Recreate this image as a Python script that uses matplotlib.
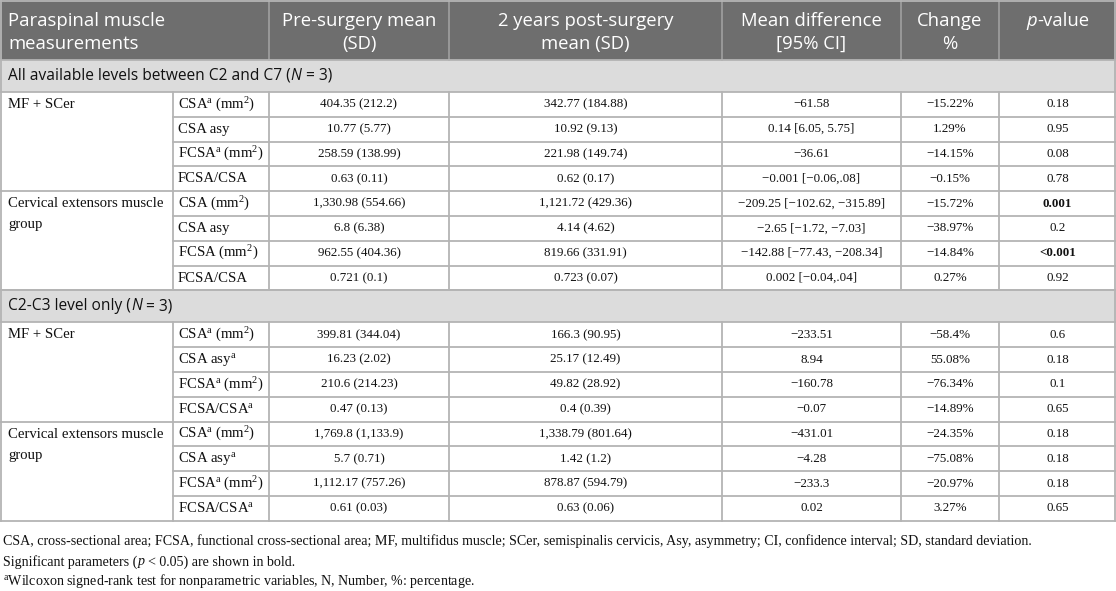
import matplotlib
matplotlib.use("Agg")
import matplotlib.pyplot as plt

plt.rcParams['mathtext.fontset'] = 'custom'
plt.rcParams['mathtext.rm'] = 'Liberation Serif'
plt.rcParams['mathtext.it'] = 'Liberation Serif:italic'
plt.rcParams['mathtext.bf'] = 'Liberation Serif:bold'

# ---- table content ----
header = ["Paraspinal muscle\nmeasurements", "Pre-surgery mean\n(SD)", "2 years post-surgery\nmean (SD)",
          "Mean difference\n[95% CI]", "Change\n%", "p-value"]
sections = ["All available levels between C2 and C7 (", "C2-C3 level only ("]
groups = ["MF + SCer", "Cervical extensors muscle\ngroup"]

meas1 = [r"CSA$^{\mathrm{a}}$ (mm$^{2}$)", "CSA asy", r"FCSA$^{\mathrm{a}}$ (mm$^{2}$)", "FCSA/CSA",
         r"CSA (mm$^{2}$)", "CSA asy", r"FCSA (mm$^{2}$)", "FCSA/CSA"]
pre1 = ["404.35 (212.2)", "10.77 (5.77)", "258.59 (138.99)", "0.63 (0.11)",
        "1,330.98 (554.66)", "6.8 (6.38)", "962.55 (404.36)", "0.721 (0.1)"]
post1 = ["342.77 (184.88)", "10.92 (9.13)", "221.98 (149.74)", "0.62 (0.17)",
         "1,121.72 (429.36)", "4.14 (4.62)", "819.66 (331.91)", "0.723 (0.07)"]
diff1 = ["\u221261.58", "0.14 [6.05, 5.75]", "\u221236.61", "\u22120.001 [\u22120.06,.08]",
         "\u2212209.25 [\u2212102.62, \u2212315.89]", "\u22122.65 [\u22121.72, \u22127.03]",
         "\u2212142.88 [\u221277.43, \u2212208.34]", "0.002 [\u22120.04,.04]"]
chg1 = ["\u221215.22%", "1.29%", "\u221214.15%", "\u22120.15%", "\u221215.72%", "\u221238.97%", "\u221214.84%", "0.27%"]
p1 = ["0.18", "0.95", "0.08", "0.78", "0.001", "0.2", "<0.001", "0.92"]

meas2 = [r"CSA$^{\mathrm{a}}$ (mm$^{2}$)", r"CSA asy$^{\mathrm{a}}$", r"FCSA$^{\mathrm{a}}$ (mm$^{2}$)",
         r"FCSA/CSA$^{\mathrm{a}}$"] * 2
pre2 = ["399.81 (344.04)", "16.23 (2.02)", "210.6 (214.23)", "0.47 (0.13)",
        "1,769.8 (1,133.9)", "5.7 (0.71)", "1,112.17 (757.26)", "0.61 (0.03)"]
post2 = ["166.3 (90.95)", "25.17 (12.49)", "49.82 (28.92)", "0.4 (0.39)",
         "1,338.79 (801.64)", "1.42 (1.2)", "878.87 (594.79)", "0.63 (0.06)"]
diff2 = ["\u2212233.51", "8.94", "\u2212160.78", "\u22120.07", "\u2212431.01", "\u22124.28", "\u2212233.3", "0.02"]
chg2 = ["\u221258.4%", "55.08%", "\u221276.34%", "\u221214.89%", "\u221224.35%", "\u221275.08%", "\u221220.97%", "3.27%"]
p2 = ["0.6", "0.18", "0.1", "0.65", "0.18", "0.18", "0.18", "0.65"]
bold_p = ["0.001", "<0.001"]

notes = ["CSA, cross-sectional area; FCSA, functional cross-sectional area; MF, multifidus muscle; SCer, "
         "semispinalis cervicis, Asy, asymmetry; CI, confidence interval; SD, standard deviation.",
         "Significant parameters (", r"$^{\mathrm{a}}$Wilcoxon signed-rank test for nonparametric variables, N, Number, %: percentage."]

# ---- layout ----
W, Hpx = 1116, 591
xs = [0, 173, 269, 449, 722, 901, 999, 1116]
hdr_h = 60
sec_h = 32
rh = 24.8
hdr_bg = '#6e6e6e'
sec_bg = '#dcdcdc'
lc = '#b4b4b4'
serif = 'Liberation Serif'
sans = 'Open Sans'
fs_num = 9.4
fs_lab = 10.6
fs_note = 10.1
fs_hdr = 13.3
fs_sec = 11.2

fig = plt.figure(figsize=(W / 100, Hpx / 100), dpi=100)
ax = fig.add_axes([0, 0, 1, 1])
ax.set_xlim(0, W)
ax.set_ylim(Hpx, 0)
ax.axis('off')
r = fig.canvas.get_renderer()


def text_w(s, **kw):
    a = ax.text(0, 0, '|' + s + '|', **kw)
    b = ax.text(0, 0, '||', **kw)
    w = a.get_window_extent(r).width - b.get_window_extent(r).width
    a.remove()
    b.remove()
    return w


def rich(x, y, parts, ha='left', **kw):
    # parts: (string, fontstyle)
    total = sum(text_w(s, style=st, **kw) for s, st in parts)
    cx = x - total / 2 if ha == 'center' else x
    for s, st in parts:
        lead = len(s) - len(s.lstrip())
        off = text_w(' ' * lead, style=st, **kw) if lead else 0
        ax.text(cx + off, y, s.strip(), style=st, ha='left', va='center', **kw)
        cx += text_w(s, style=st, **kw)


# header
ax.add_patch(plt.Rectangle((0, 0), W, hdr_h, color=hdr_bg, lw=0))
for x in xs[2:-1]:
    ax.plot([x, x], [0, hdr_h], color='#a0a0a0', lw=1.2)
hk = dict(family=sans, fontsize=fs_hdr, color='white')
l1, l2 = header[0].split('\n')
ax.text(8, 21, l1, ha='left', va='center', **hk)
ax.text(8, 44, l2, ha='left', va='center', **hk)
for i, h in enumerate(header[1:5]):
    cx = (xs[i + 2] + xs[i + 3]) / 2
    a, b = h.split('\n')
    ax.text(cx, 21, a, ha='center', va='center', **hk)
    ax.text(cx, 44, b, ha='center', va='center', **hk)
rich((xs[6] + xs[7]) / 2, 21, [("p", 'italic'), ("-value", 'normal')], ha='center', **hk)

# body
blocks = [(meas1, pre1, post1, diff1, chg1, p1), (meas2, pre2, post2, diff2, chg2, p2)]
y = hdr_h
dk = dict(family=serif, color='#111111')
for s, (meas, pre, post, diff, chg, pv) in enumerate(blocks):
    ax.add_patch(plt.Rectangle((0, y), W, sec_h, color=sec_bg, lw=0))
    rich(8, y + sec_h / 2, [(sections[s], 'normal'), ("N", 'italic'), (" = 3)", 'normal')],
         family=sans, fontsize=fs_sec, color='#111111')
    ax.plot([0, W], [y, y], color=lc, lw=1.3)
    y += sec_h
    top = y
    ax.plot([0, W], [y, y], color=lc, lw=1.3)
    for i in range(8):
        cy = y + rh / 2
        if i % 4 == 0:
            g = groups[i // 4].split('\n')
            for k, line in enumerate(g):
                ax.text(8, cy + k * 21, line, ha='left', va='center', fontsize=fs_lab, **dk)
        ax.text(xs[1] + 5, cy, meas[i], ha='left', va='center', fontsize=fs_lab, **dk)
        cols = [pre[i], post[i], diff[i], chg[i], pv[i]]
        for j, v in enumerate(cols):
            cx = (xs[j + 2] + xs[j + 3]) / 2
            wt = 'bold' if (j == 4 and v in bold_p) else 'normal'
            ax.text(cx, cy, v, ha='center', va='center', fontweight=wt, fontsize=fs_num, **dk)
        y += rh
        x0 = 0 if i % 4 == 3 else xs[1]
        ax.plot([x0, W], [y, y], color=lc, lw=1.3)
    for x in xs[1:-1]:
        ax.plot([x, x], [top, y], color=lc, lw=1.3)

# outer border
ax.plot([0.6, 0.6], [0, y], color=lc, lw=1.3)
ax.plot([W - 0.6, W - 0.6], [0, y], color=lc, lw=1.3)
ax.plot([0, W], [0.6, 0.6], color=lc, lw=1.3)

# footnotes
fk = dict(family=serif, fontsize=fs_note, color='#111111')
ax.text(3, 541, notes[0], ha='left', va='center', **fk)
rich(3, 562, [(notes[1], 'normal'), ("p", 'italic'), (" < 0.05) are shown in bold.", 'normal')], **fk)
ax.text(3, 581, notes[2], ha='left', va='center', **fk)

fig.savefig("out.png", dpi=100)
